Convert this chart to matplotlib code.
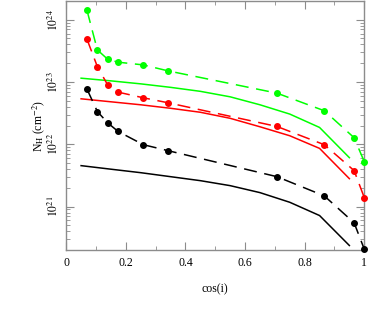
import numpy as np, matplotlib
matplotlib.use("Agg"); import matplotlib.pyplot as plt
from matplotlib.ticker import LogLocator, MultipleLocator, FixedLocator, NullFormatter

plt.rcParams.update({"font.family": ["Liberation Serif", "DejaVu Serif"], "font.size": 8,
                     "mathtext.fontset": "stix"})
AX = "0.55"
GREEN = "#00ff00"; RED = "#ff0000"; BLACK = "#000000"

# cos(i) of the sampled inclinations (dashed, with markers)
cos_pts = [0.0698, 0.1045, 0.139, 0.174, 0.259, 0.342, 0.707, 0.866, 0.966, 1.0]
logN_green_pts = [24.15, 23.515, 23.366, 23.318, 23.274, 23.178, 22.821, 22.538, 22.105, 21.72]
logN_red_pts = [23.686, 23.247, 22.954, 22.837, 22.746, 22.666, 22.286, 21.993, 21.577, 21.144]
logN_black_pts = [22.885, 22.526, 22.345, 22.206, 21.993, 21.897, 21.48, 21.171, 20.739, 20.316]

# solid curves
cos_line = [0.05, 0.15, 0.25, 0.35, 0.45, 0.55, 0.65, 0.75, 0.85, 0.95]
logN_green_line = [23.061, 23.018, 22.970, 22.914, 22.85, 22.762, 22.634, 22.485, 22.27, 21.785]
logN_red_line = [22.73, 22.682, 22.634, 22.578, 22.514, 22.417, 22.281, 22.137, 21.934, 21.448]
logN_black_line = [21.657, 21.60, 21.544, 21.48, 21.416, 21.336, 21.224, 21.069, 20.856, 20.375]

fig = plt.figure(figsize=(3.74, 3.15), dpi=100)
ax = fig.add_axes([0.177, 0.206, 0.797, 0.791])

for c, lp, ll in ((BLACK, logN_black_pts, logN_black_line),
                  (RED, logN_red_pts, logN_red_line),
                  (GREEN, logN_green_pts, logN_green_line)):
    ax.plot(cos_line, 10**np.array(ll), color=c, lw=1.1, zorder=2)
    ax.plot(cos_pts, 10**np.array(lp), color=c, lw=1.1, ls=(0, (8.5, 5)),
            marker="o", ms=4.0, zorder=3, clip_on=False)

ax.set_yscale("log")
ax.set_xlim(0, 1); ax.set_ylim(2e20, 2e24)
ax.xaxis.set_minor_locator(MultipleLocator(0.1))
ax.set_xticks([0, 0.2, 0.4, 0.6, 0.8, 1.0])
ax.set_xticklabels(["0", "0.2", "0.4", "0.6", "0.8", "1"])
ax.yaxis.set_major_locator(FixedLocator([1e21, 1e22, 1e23, 1e24]))
ax.yaxis.set_minor_locator(LogLocator(base=10, subs=np.arange(2, 10), numticks=20))
ax.yaxis.set_minor_formatter(NullFormatter())
ax.set_yticklabels([r"$10^{21}$", r"$10^{22}$", r"$10^{23}$", r"$10^{24}$"], rotation=90, va="center")
ax.tick_params(which="both", direction="in", top=True, right=True, color=AX, labelsize=8.5)
ax.tick_params(which="major", length=6, width=0.8)
ax.tick_params(which="minor", length=3, width=0.6)
ax.tick_params(axis="x", pad=5)
for s in ax.spines.values():
    s.set_color(AX); s.set_linewidth(1.0)
ax.set_xlabel("cos(i)", fontsize=8.5, labelpad=10)
ax.set_ylabel(r"N$_{\rm H}$ (cm$^{-2}$)", fontsize=8.5, labelpad=0)
fig.savefig("out.png", dpi=100)
